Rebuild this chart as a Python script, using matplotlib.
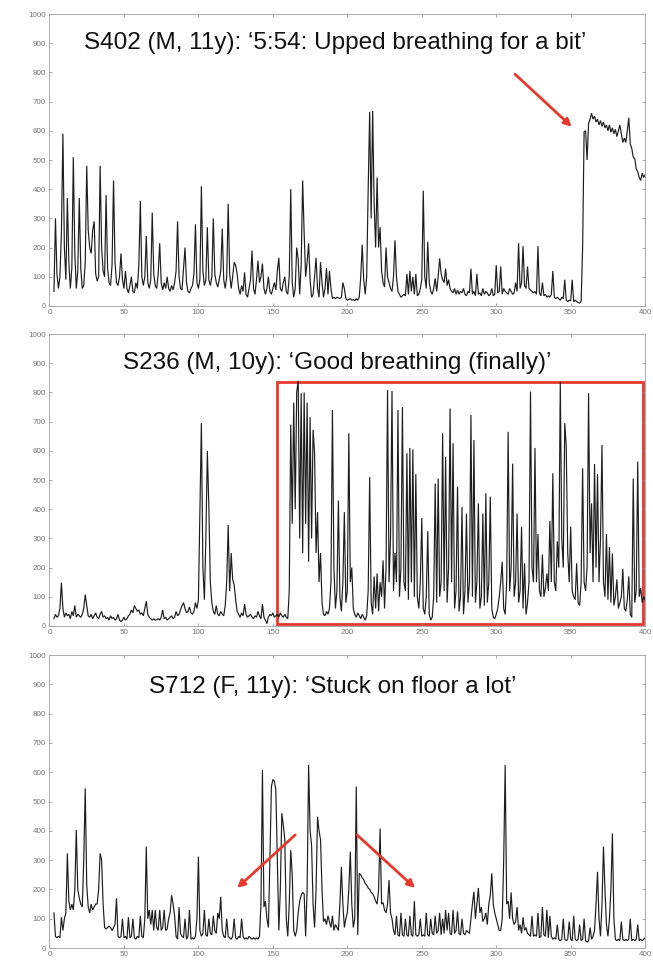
import numpy as np
import matplotlib
matplotlib.use("Agg")
import matplotlib.pyplot as plt
from matplotlib.patches import Rectangle

plt.rcParams['font.family'] = ['Liberation Sans', 'DejaVu Sans']

T_START = 3

titles = [
    "S402 (M, 11y): \u20185:54: Upped breathing for a bit\u2019",
    "S236 (M, 10y): \u2018Good breathing (finally)\u2019",
    "S712 (F, 11y): \u2018Stuck on floor a lot\u2019",
]

s402 = [
    50, 300, 110, 60, 100, 250, 590, 200, 90, 370,
    150, 60, 130, 510, 180, 60, 120, 370, 130, 60,
    70, 150, 480, 260, 200, 180, 260, 290, 110, 85,
    100, 480, 200, 120, 100, 380, 130, 80, 70, 140,
    430, 150, 80, 70, 100, 180, 90, 60, 120, 60,
    45, 70, 100, 50, 45, 80, 60, 140, 360, 100,
    70, 100, 240, 80, 60, 90, 320, 110, 70, 60,
    110, 215, 80, 55, 80, 60, 100, 60, 50, 70,
    55, 80, 120, 290, 100, 60, 55, 130, 200, 80,
    50, 45, 60, 70, 110, 280, 80, 60, 90, 410,
    120, 70, 90, 270, 90, 70, 100, 300, 110, 80,
    65, 90, 120, 265, 90, 60, 100, 350, 110, 60,
    100, 150, 140, 110, 60, 40, 70, 50, 115, 40,
    30, 60, 90, 190, 60, 40, 90, 155, 80, 100,
    145, 60, 40, 60, 100, 50, 40, 60, 80, 55,
    120, 165, 60, 50, 80, 100, 50, 40, 100, 400,
    80, 30, 60, 200, 160, 40, 140, 430, 250, 100,
    150, 215, 90, 30, 40, 100, 165, 60, 30, 150,
    80, 30, 60, 130, 40, 120, 60, 25, 30, 25,
    30, 28, 25, 30, 80, 60, 25, 20, 22, 25,
    20, 22, 18, 25, 20, 30, 100, 210, 90, 40,
    100, 400, 665, 300, 668, 350, 200, 440, 200, 270,
    120, 80, 65, 200, 100, 80, 60, 50, 100, 225,
    100, 50, 40, 30, 35, 40, 35, 110, 40, 120,
    50, 100, 40, 110, 35, 40, 60, 90, 395, 100,
    60, 220, 80, 50, 40, 60, 95, 50, 100, 163,
    110, 90, 80, 128, 70, 90, 60, 50, 45, 60,
    40, 55, 40, 50, 45, 60, 40, 35, 50, 45,
    128, 40, 50, 35, 110, 40, 45, 35, 60, 40,
    50, 45, 35, 40, 60, 35, 40, 140, 45, 50,
    135, 40, 60, 50, 45, 40, 60, 50, 40, 45,
    80, 50, 215, 60, 80, 205, 70, 60, 135, 60,
    55, 50, 45, 50, 40, 205, 45, 35, 80, 35,
    40, 30, 35, 30, 40, 120, 30, 25, 30, 25,
    20, 30, 25, 90, 20, 15, 20, 18, 90, 15,
    20, 15, 12, 10, 15, 200, 597, 600, 500, 626,
    640, 660, 640, 650, 630, 640, 620, 635, 615, 630,
    610, 620, 600, 620, 595, 610, 590, 605, 580, 600,
    620, 590, 560, 575, 560, 600, 645, 555, 540, 510,
    505, 470, 460, 440, 430, 455, 440, 450,
]

s236 = [
    25, 40, 30, 35, 60, 148, 60, 30, 45, 35,
    40, 25, 50, 35, 70, 30, 40, 35, 30, 40,
    60, 108, 70, 35, 30, 40, 25, 35, 45, 30,
    25, 40, 50, 30, 35, 25, 30, 20, 35, 25,
    30, 20, 25, 40, 20, 15, 20, 30, 20, 25,
    35, 40, 55, 45, 70, 60, 50, 55, 40, 45,
    35, 60, 85, 40, 30, 25, 20, 25, 20, 22,
    25, 20, 30, 55, 25, 30, 20, 25, 30, 35,
    25, 30, 50, 35, 40, 55, 70, 80, 60, 45,
    50, 65, 45, 40, 50, 80, 60, 90, 400, 695,
    200, 90, 300, 600, 410, 150, 80, 50, 40, 70,
    40, 35, 50, 40, 35, 70, 150, 346, 120, 250,
    160, 140, 90, 50, 40, 30, 45, 35, 75, 40,
    30, 35, 40, 30, 25, 35, 30, 50, 35, 25,
    75, 30, 20, 8, 30, 40, 35, 45, 30, 35,
    40, 30, 45, 35, 30, 40, 30, 25, 120, 690,
    350, 765, 400, 800, 840, 300, 797, 250, 800, 350,
    765, 220, 715, 300, 672, 592, 250, 390, 150, 250,
    80, 40, 35, 50, 40, 60, 150, 740, 200, 60,
    120, 430, 100, 50, 150, 390, 80, 120, 660, 150,
    200, 60, 40, 30, 45, 35, 25, 40, 30, 20,
    35, 120, 510, 80, 40, 170, 60, 180, 50, 150,
    100, 225, 60, 200, 808, 150, 300, 805, 120, 250,
    150, 740, 100, 200, 750, 150, 120, 592, 90, 610,
    150, 605, 100, 520, 100, 60, 150, 370, 60, 40,
    100, 325, 40, 20, 30, 100, 488, 80, 505, 100,
    150, 660, 120, 580, 80, 200, 745, 150, 626, 60,
    120, 477, 50, 100, 408, 40, 120, 385, 80, 150,
    723, 100, 637, 80, 150, 420, 60, 100, 385, 70,
    455, 80, 150, 443, 60, 30, 25, 40, 60, 100,
    150, 220, 60, 40, 150, 665, 120, 200, 556, 100,
    150, 385, 80, 120, 340, 60, 215, 40, 80, 150,
    803, 200, 150, 610, 150, 315, 120, 100, 245, 100,
    130, 180, 120, 360, 150, 523, 150, 120, 290, 200,
    837, 300, 200, 695, 615, 250, 150, 340, 120, 100,
    90, 215, 80, 70, 150, 540, 150, 120, 200, 797,
    250, 420, 150, 555, 200, 520, 150, 300, 620, 150,
    100, 315, 90, 270, 80, 248, 70, 100, 160, 60,
    80, 100, 195, 60, 50, 90, 170, 40, 30, 505,
    80, 120, 563, 100, 130, 80, 100, 90,
]

s712 = [
    120, 40, 35, 40, 35, 105, 60, 100, 120, 323,
    160, 130, 150, 130, 200, 403, 200, 170, 150, 140,
    300, 545, 215, 140, 120, 150, 130, 140, 150, 150,
    200, 323, 300, 150, 70, 65, 70, 75, 70, 60,
    70, 80, 170, 40, 35, 40, 100, 35, 40, 30,
    105, 35, 40, 100, 35, 30, 40, 35, 110, 40,
    35, 100, 346, 100, 130, 80, 130, 60, 130, 70,
    60, 130, 60, 70, 130, 60, 65, 100, 120, 180,
    150, 110, 40, 30, 140, 50, 40, 35, 100, 30,
    40, 130, 30, 35, 30, 40, 100, 312, 60, 40,
    50, 130, 45, 40, 100, 50, 45, 110, 60, 50,
    120, 100, 175, 60, 40, 35, 100, 40, 35, 30,
    40, 100, 35, 30, 40, 35, 100, 40, 30, 35,
    30, 40, 35, 30, 35, 30, 35, 30, 40, 150,
    607, 140, 160, 100, 70, 300, 550, 575, 570, 540,
    300, 60, 200, 460, 420, 370, 100, 40, 150, 334,
    250, 60, 40, 60, 120, 160, 180, 190, 185, 40,
    200, 625, 400, 350, 150, 70, 200, 448, 400, 370,
    200, 90, 100, 80, 110, 90, 70, 110, 60, 80,
    70, 60, 150, 277, 150, 70, 100, 120, 200, 329,
    150, 70, 100, 551, 45, 255, 250, 240, 233, 220,
    215, 205, 200, 190, 185, 175, 160, 150, 200, 408,
    150, 155, 130, 120, 150, 232, 120, 100, 60, 45,
    110, 45, 40, 120, 45, 40, 100, 45, 40, 110,
    45, 40, 160, 45, 40, 45, 100, 40, 45, 40,
    120, 45, 40, 100, 50, 45, 110, 50, 60, 120,
    45, 100, 50, 130, 60, 120, 50, 45, 130, 50,
    60, 125, 50, 45, 100, 50, 45, 60, 55, 50,
    100, 150, 192, 100, 150, 205, 120, 140, 90, 100,
    120, 80, 150, 180, 255, 150, 120, 100, 80, 60,
    60, 100, 300, 625, 150, 160, 100, 190, 100, 80,
    90, 140, 60, 80, 50, 105, 60, 70, 50, 45,
    40, 110, 40, 45, 40, 120, 35, 40, 140, 45,
    40, 130, 35, 110, 40, 30, 35, 30, 80, 30,
    25, 30, 100, 30, 25, 30, 90, 30, 25, 110,
    30, 25, 30, 80, 25, 30, 100, 25, 20, 25,
    70, 30, 40, 60, 150, 260, 100, 40, 150, 346,
    200, 80, 40, 100, 200, 391, 100, 30, 25, 30,
    25, 90, 30, 25, 30, 25, 30, 100, 25, 30,
    25, 30, 80, 25, 30, 25, 30, 35,
]

x_ticks = [0, 50, 100, 150, 200, 250, 300, 350, 400]
y_ticks = [0, 100, 200, 300, 400, 500, 600, 700, 800, 900, 1000]

RED = '#e8382b'

fig = plt.figure(figsize=(6.53, 9.61), dpi=100)
positions = [
    [0.0758, 0.6816, 0.9122, 0.3038],
    [0.0758, 0.3486, 0.9122, 0.3038],
    [0.0758, 0.0135, 0.9122, 0.3049],
]
series = [s402, s236, s712]
title_pos = [(192, 900), (193, 900), (190, 892)]

axes = []
for i, (pos, vals) in enumerate(zip(positions, series)):
    ax = fig.add_axes(pos)
    t = np.arange(T_START, T_START + len(vals))
    ax.plot(t, vals, color='#1e1e1e', lw=0.85, solid_joinstyle='miter')
    ax.set_xlim(0, 400)
    ax.set_ylim(0, 1000)
    ax.set_xticks(x_ticks)
    ax.set_yticks(y_ticks)
    ax.tick_params(direction='in', length=2.5, width=0.5, color='#888888',
                   labelsize=5.8, labelcolor='#777777', pad=2.5,
                   top=True, right=True)
    for sp in ax.spines.values():
        sp.set_color('#aaaaaa')
        sp.set_linewidth(0.7)
    ax.text(title_pos[i][0], title_pos[i][1], titles[i], ha='center',
            va='center', fontsize=17.5, color='#111111')
    axes.append(ax)

arrow_kw = dict(arrowstyle='-|>', color=RED, lw=2.0, mutation_scale=11,
                shrinkA=0, shrinkB=0)
axes[0].annotate('', xy=(350.7, 614), xytext=(312.6, 794), arrowprops=arrow_kw)
axes[1].add_patch(Rectangle((153, 7), 245.5, 830, fill=False,
                            edgecolor=RED, lw=2.0, clip_on=False))
axes[2].annotate('', xy=(126, 205), xytext=(165, 386), arrowprops=arrow_kw)
axes[2].annotate('', xy=(245.5, 205), xytext=(206.5, 386), arrowprops=arrow_kw)

fig.savefig('out.png', dpi=100, facecolor='white')
